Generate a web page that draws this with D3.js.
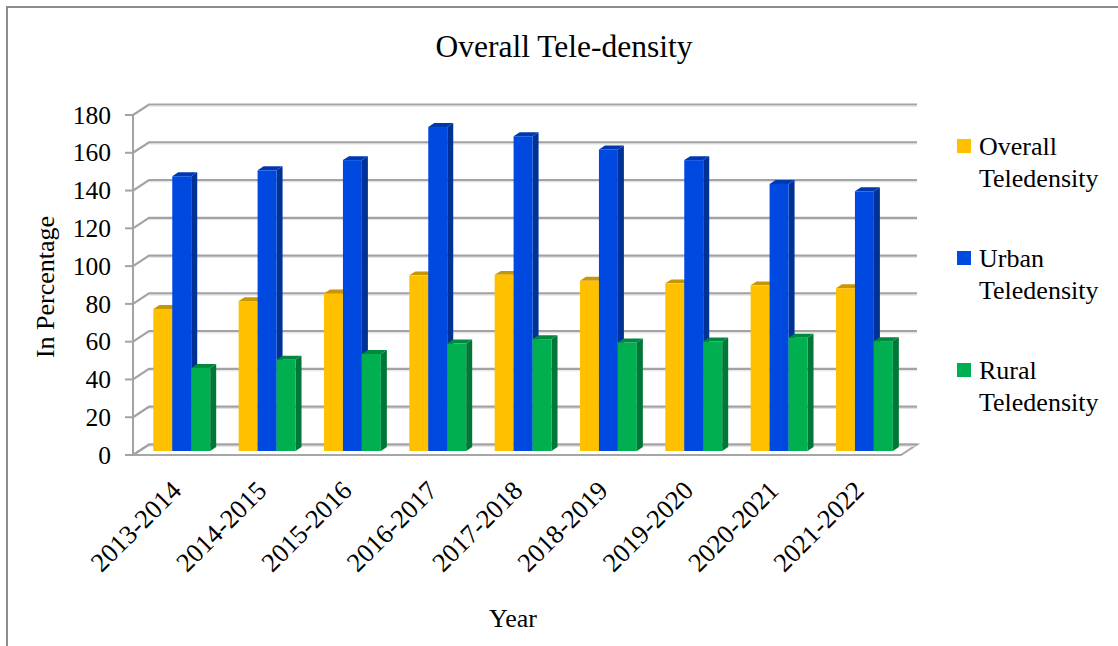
<!DOCTYPE html>
<html>
<head>
<meta charset="utf-8">
<script src="https://cdn.jsdelivr.net/npm/d3@7"></script>
<style>
  body { margin: 0; background: #fff; }
  svg text { font-family: "Liberation Serif", "DejaVu Serif", serif; fill: #000; }
</style>
</head>
<body>
<svg id="chart" width="1118" height="646"></svg>
<script>
// data
var categories = ["2013-2014", "2014-2015", "2015-2016", "2016-2017", "2017-2018",
                  "2018-2019", "2019-2020", "2020-2021", "2021-2022"];
var seriesNames = ["Overall\nTeledensity", "Urban\nTeledensity", "Rural\nTeledensity"];
var overall = [75.23, 79.38, 83.36, 93.01, 93.27, 90.11, 88.78, 87.7, 86.2];
var urban   = [145.46, 148.61, 154.01, 171.52, 166.64, 159.66, 154.0, 141.4, 137.5];
var rural   = [44.01, 48.37, 51.37, 56.91, 59.25, 57.50, 58.0, 60.0, 58.2];
var yTicks  = [0, 20, 40, 60, 80, 100, 120, 140, 160, 180];

var colors = ["#FFC000", "#0049E0", "#00B050"];

var svg = d3.select("#chart").attr("font-family", "Liberation Serif, serif");

// 3d box: front plane + depth vector
var front = { left: 133, right: 901, top: 115, bottom: 455 };
var depth = { dx: 16, dy: -10.5 };
var barDepth = { f0: 0.38, f1: 0.755 };

function proj(x, y, f) {
  return [x + depth.dx * f, y + depth.dy * f];
}
function pts(list) {
  return list.map(function(p){ return p.join(","); }).join(" ");
}

var y = d3.scaleLinear().domain([0, 180]).range([front.bottom, front.top]);
var x = d3.scaleBand().domain(categories)
  .range([front.left, front.right])
  .paddingInner(1 / 3).paddingOuter(1 / 6);
var xs = d3.scaleBand().domain(d3.range(3)).range([0, x.bandwidth()]);

// outer border
svg.append("rect")
  .attr("x", 7).attr("y", 7)
  .attr("width", 1200).attr("height", 700)
  .attr("fill", "none").attr("stroke", "#8c8c8c").attr("stroke-width", 2);

// title
svg.append("text")
  .attr("x", 564).attr("y", 57)
  .attr("text-anchor", "middle")
  .attr("font-size", "31.5px")
  .text("Overall Tele-density");

// floor
svg.append("polygon")
  .attr("points", pts([proj(front.left, front.bottom, 0), proj(front.right, front.bottom, 0),
                       proj(front.right, front.bottom, 1), proj(front.left, front.bottom, 1)]))
  .attr("fill", "#fff").attr("stroke", "#a6a6a6").attr("stroke-width", 2);

// gridlines: side wall diagonal + back wall horizontal
var grid = svg.append("g").attr("class", "grid");
yTicks.forEach(function(t){
  var a = proj(front.left, y(t), 0), b = proj(front.left, y(t), 1), c = proj(front.right, y(t), 1);
  grid.append("polyline")
    .attr("points", pts([a, b, c]))
    .attr("fill", "none").attr("stroke", "#a3a3a3").attr("stroke-width", 2.2);
  grid.append("line")
    .attr("x1", b[0]).attr("x2", c[0]).attr("y1", b[1] + 1.8).attr("y2", c[1] + 1.8)
    .attr("stroke", "#e2e2e2").attr("stroke-width", 1);
});

// y axis line + ticks
svg.append("line")
  .attr("x1", front.left).attr("x2", front.left)
  .attr("y1", y(180)).attr("y2", y(0))
  .attr("stroke", "#a3a3a3").attr("stroke-width", 2);
var yAxis = svg.append("g");
yTicks.forEach(function(t){
  yAxis.append("line")
    .attr("x1", front.left - 8).attr("x2", front.left)
    .attr("y1", y(t)).attr("y2", y(t))
    .attr("stroke", "#a3a3a3").attr("stroke-width", 2);
  yAxis.append("text")
    .attr("x", 111).attr("y", y(t))
    .attr("dy", "0.34em")
    .attr("text-anchor", "end")
    .attr("font-size", "25.5px")
    .text(t);
});

// bars
var series = [overall, urban, rural];
function shade(c, k) { return d3.rgb(c).darker(k).formatHex(); }
var bars = svg.append("g").attr("class", "bars");
categories.forEach(function(cat, i){
  series.forEach(function(vals, s){
    var x0 = x(cat) + xs(s), x1 = x0 + xs.bandwidth();
    var yt = y(vals[i]), yb = y(0);
    var f0 = barDepth.f0, f1 = barDepth.f1;
    var g = bars.append("g");
    // right side face
    g.append("polygon")
      .attr("points", pts([proj(x1, yt, f0), proj(x1, yt, f1), proj(x1, yb, f1), proj(x1, yb, f0)]))
      .attr("fill", shade(colors[s], 1.1));
    // top face
    g.append("polygon")
      .attr("points", pts([proj(x0, yt, f0), proj(x0, yt, f1), proj(x1, yt, f1), proj(x1, yt, f0)]))
      .attr("fill", shade(colors[s], 0.7));
    // front face
    var p = proj(x0, yt, f0);
    g.append("rect")
      .attr("x", p[0]).attr("y", p[1])
      .attr("width", x1 - x0).attr("height", yb - yt)
      .attr("fill", colors[s]);
  });
});

// x labels
var xAxis = svg.append("g");
categories.forEach(function(cat){
  var cx = x(cat) + x.bandwidth() / 2 - 6;
  xAxis.append("text")
    .attr("transform", "translate(" + cx + "," + 479 + ") rotate(-45)")
    .attr("text-anchor", "end")
    .attr("dy", "0.7em")
    .attr("font-size", "26.5px")
    .text(cat);
});

// axis titles
svg.append("text")
  .attr("x", 513).attr("y", 627)
  .attr("text-anchor", "middle")
  .attr("font-size", "26px")
  .text("Year");
svg.append("text")
  .attr("transform", "translate(54,287) rotate(-90)")
  .attr("text-anchor", "middle")
  .attr("font-size", "26px")
  .text("In Percentage");

// legend
var legend = svg.append("g");
seriesNames.forEach(function(name, s){
  var base = 155 + s * 112;
  legend.append("rect")
    .attr("x", 957).attr("y", base - 16)
    .attr("width", 14).attr("height", 14)
    .attr("fill", colors[s]);
  name.split("\n").forEach(function(line, k){
    legend.append("text")
      .attr("x", 979).attr("y", base + k * 31.5)
      .attr("font-size", "26px")
      .text(line);
  });
});
</script>
</body>
</html>
